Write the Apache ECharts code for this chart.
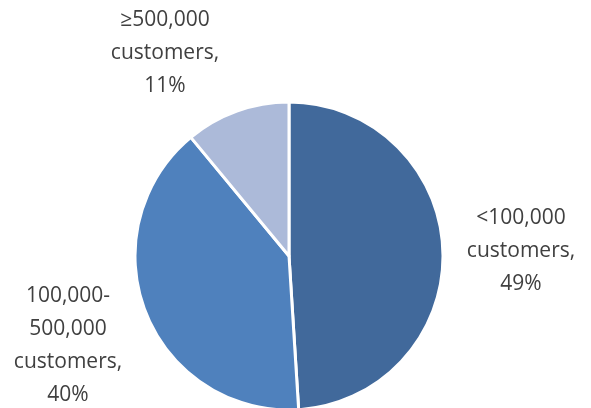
<!DOCTYPE html>
<html><head><meta charset="utf-8">
<script src="https://cdn.jsdelivr.net/npm/echarts@6/dist/echarts.min.js"></script>
<style>html,body{margin:0;padding:0;background:#fff}#c{width:591px;height:408px}</style>
</head><body><div id="c"></div>
<script>
const categories = ['<100,000\ncustomers', '100,000-\n500,000\ncustomers', '≥500,000\ncustomers'];
const values = [49, 40, 11];
const colors = ['#41699B', '#4F81BD', '#ACBAD9'];
const labelPos = [[521, 251], [68, 346], [165, 53]];

const chart = echarts.init(document.getElementById('c'), null, {renderer: 'canvas'});
chart.setOption({
  animation: false,
  series: [{
    type: 'pie',
    center: [289, 256],
    radius: 154,
    startAngle: 90,
    clockwise: true,
    data: categories.map((n, i) => ({name: n, value: values[i], itemStyle: {color: colors[i]}})),
    itemStyle: {borderColor: '#fff', borderWidth: 3},
    label: {
      show: true,
      formatter: p => p.name + ',\n' + p.value + '%',
      fontFamily: '"Open Sans", Lato, sans-serif',
      fontSize: 21,
      lineHeight: 33,
      color: '#404040',
      align: 'center',
      overflow: 'none',
      width: 200
    },
    labelLine: {show: false},
    labelLayout: p => ({x: labelPos[p.dataIndex][0], y: labelPos[p.dataIndex][1], align: 'center', verticalAlign: 'middle'})
  }]
});
</script></body></html>
